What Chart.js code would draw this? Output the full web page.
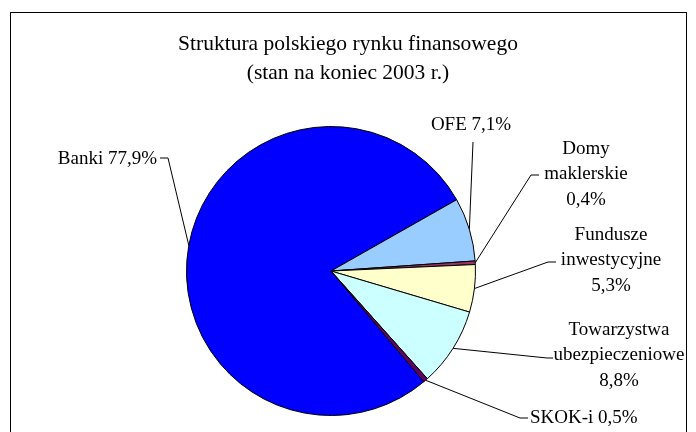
<!DOCTYPE html>
<html lang="pl">
<head>
    <meta charset="UTF-8">
    <title>Struktura polskiego rynku finansowego</title>
    <script src="https://cdn.jsdelivr.net/npm/chart.js"></script>
    <style>
        html, body { margin: 0; padding: 0; background: #fff; }
        #wrap { width: 696px; height: 432px; position: relative; }
    </style>
</head>
<body>
    <div id="wrap"><canvas id="myChart"></canvas></div>
<script>
    const categories = ['Banki', 'OFE', 'Domy maklerskie', 'Fundusze inwestycyjne', 'Towarzystwa ubezpieczeniowe', 'SKOK-i'];
    const shares = [77.9, 7.1, 0.4, 5.3, 8.8, 0.5];
    const colors = ['#0000FF', '#99CCFF', '#993366', '#FFFFCC', '#CCFFFF', '#660066'];
    const titleLines = ['Struktura polskiego rynku finansowego', '(stan na koniec 2003 r.)'];

    const serif = '"Liberation Serif", "Times New Roman", serif';

    // where each label sits, relative to the pie centre
    const labelLayout = [
        { wrap: false, align: 'right',  tx: -174, ty: -112, ex: -163, ey: -113, hx: -171 },
        { wrap: false, align: 'center', tx: 140,  ty: -146, ex: 142,  ey: -129, hx: null },
        { wrap: true,  align: 'center', tx: 255,  ty: -122, ex: 200,  ey: -96,  hx: 208 },
        { wrap: true,  align: 'center', tx: 280,  ty: -36,  ex: 217,  ey: -9,   hx: 225 },
        { wrap: true,  align: 'center', tx: 288,  ty: 59,   ex: 216,  ey: 87,   hx: 222 },
        { wrap: false, align: 'left',   tx: 199,  ty: 147,  ex: 189,  ey: 147,  hx: 197 }
    ];

    const pct = v => v.toFixed(1).replace('.', ',') + '%';

    const framePlugin = {
        id: 'frame',
        beforeDraw(chart) {
            const c = chart.ctx;
            c.save();
            c.fillStyle = '#fff';
            c.fillRect(0, 0, chart.width, chart.height);
            c.strokeStyle = '#000';
            c.lineWidth = 1;
            c.strokeRect(10.5, 12.5, 676, 440);

            // title, centred on the frame rather than on the pie
            c.fillStyle = '#000';
            c.font = '21.5px ' + serif;
            c.textAlign = 'center';
            c.textBaseline = 'alphabetic';
            c.fillText(titleLines[0], 348, 50);
            c.fillText(titleLines[1], 348, 79);
            c.restore();
        }
    };

    const labelPlugin = {
        id: 'pieLabels',
        afterDatasetsDraw(chart) {
            const c = chart.ctx;
            const arcs = chart.getDatasetMeta(0).data;
            c.save();
            c.font = '19px ' + serif;
            c.fillStyle = '#000';
            c.strokeStyle = '#000';
            c.lineWidth = 1;
            c.textBaseline = 'middle';
            arcs.forEach((arc, i) => {
                const L = labelLayout[i];
                const cx = arc.x, cy = arc.y;
                const mid = (arc.startAngle + arc.endAngle) / 2;
                const px = cx + Math.cos(mid) * arc.outerRadius;
                const py = cy + Math.sin(mid) * arc.outerRadius;
                c.beginPath();
                c.moveTo(px, py);
                c.lineTo(cx + L.ex, cy + L.ey);
                if (L.hx !== null) c.lineTo(cx + L.hx, cy + L.ey);
                c.stroke();

                let lines;
                if (L.wrap) {
                    lines = categories[i].split(' ').concat([pct(shares[i])]);
                } else {
                    lines = [categories[i] + ' ' + pct(shares[i])];
                }
                c.textAlign = L.align;
                lines.forEach((t, k) => {
                    c.fillText(t, cx + L.tx, cy + L.ty + k * 25.5);
                });
            });
            c.restore();
        }
    };

    new Chart(document.getElementById('myChart'), {
        type: 'pie',
        data: {
            labels: categories,
            datasets: [{
                data: shares,
                backgroundColor: colors,
                borderColor: '#000',
                borderWidth: 1
            }]
        },
        options: {
            responsive: true,
            maintainAspectRatio: false,
            animation: false,
            rotation: 140,
            layout: { padding: { top: 126, bottom: 16, left: 100, right: 134 } },
            plugins: {
                legend: { display: false },
                tooltip: { enabled: false },
                title: { display: false }
            }
        },
        plugins: [framePlugin, labelPlugin]
    });
</script>
</body>
</html>
